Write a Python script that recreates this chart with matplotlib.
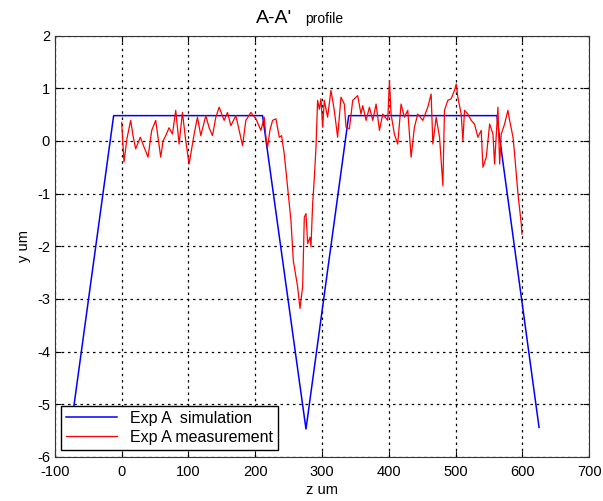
import numpy as np
import matplotlib.pyplot as plt

plt.rcParams['font.family'] = ['Liberation Sans', 'DejaVu Sans']
plt.rcParams['axes.unicode_minus'] = False

# simulation profile (vertices)
sim_z = [-76, -12, 211, 276, 340, 562, 565, 625]
sim_y = [-5.45, 0.48, 0.48, -5.47, 0.48, 0.48, 0.15, -5.44]

# measured profile
meas_z = [0, 3.5, 8, 13.5, 17, 21, 28, 33, 39.5, 45, 51, 58.5, 62, 66, 71, 76, 81, 86,
          91, 96, 101, 108.5, 113.5, 118.5, 126, 131, 136, 141, 146, 153.5, 158.5,
          163.5, 171, 176, 181, 186, 193.5, 201, 208.5, 213.5, 216, 218.5, 222, 226,
          231, 236, 239.5, 243.5, 248.5, 253.5, 257, 263.5, 267, 271, 273.5, 276,
          278.5, 282, 283.5, 286, 288.5, 291, 293.4, 296, 298.4, 301, 303.4, 308.4,
          313.4, 318.4, 323.4, 328.4, 333.4, 336, 341, 346, 353.4, 358.4, 361, 366,
          371, 376, 381, 386, 391, 398.4, 401, 403.4, 408.4, 413.4, 418.4, 423.4,
          428.4, 433.4, 438.4, 443.4, 451, 458.4, 463.4, 466, 471, 476, 481, 483.4,
          488.4, 493.4, 498.4, 501, 503.4, 508.4, 511, 513.4, 518.4, 523.4, 528.4,
          533.4, 538.4, 541, 546, 551, 556, 558.4, 563.4, 566, 568.4, 573.4, 578.4,
          581, 586, 588.4, 593.4, 598.4, 599.4]
meas_y = [0.35, -0.4, 0.05, 0.39, 0.1, -0.15, 0.07, -0.1, -0.31, 0.2, 0.39, -0.31,
          0.0, 0.1, 0.25, 0.13, 0.58, -0.06, 0.54, 0.0, -0.44, 0.13, 0.45, 0.1, 0.48,
          0.25, 0.1, 0.45, 0.64, 0.39, 0.54, 0.29, 0.48, 0.2, -0.09, 0.39, 0.54, 0.42,
          0.2, 0.45, 0.07, -0.12, 0.2, 0.39, 0.42, 0.07, 0.1, -0.25, -0.88, -1.51,
          -2.27, -2.77, -3.18, -2.77, -1.45, -1.38, -1.95, -1.83, -2.01, -1.19, -0.7,
          -0.12, 0.77, 0.6, 0.8, 0.26, 0.77, 0.45, 0.96, 0.58, 0.07, 0.83, 0.7, 0.26,
          0.23, 0.77, 0.86, 0.51, 0.67, 0.39, 0.64, 0.39, 0.7, 0.2, 0.51, 0.39, 1.15,
          0.51, 0.13, -0.06, 0.7, 0.45, 0.58, -0.31, 0.26, 0.51, 0.39, 0.64, 0.89,
          -0.06, 0.45, 0.07, -0.85, 0.58, 0.77, 0.8, 0.96, 1.08, 0.83, 0.51, 0.0,
          0.58, 0.51, 0.39, 0.32, 0.07, 0.2, -0.5, -0.31, 0.32, 0.13, -0.44, 0.64,
          -0.44, 0.13, 0.32, 0.58, 0.39, 0.07, -0.25, -1.0, -1.58, -1.77]

fig = plt.figure(figsize=(6.03, 5.01), dpi=100)
ax = fig.add_axes([0.091, 0.088, 0.886, 0.841])

ax.plot(sim_z, sim_y, color='#0000ff', lw=1.1, label='Exp A  simulation')
ax.plot(meas_z, meas_y, color='#ff0000', lw=0.9, label='Exp A measurement')

ax.set_xlim(-100, 700)
ax.set_ylim(-6, 2)
ax.set_xticks(np.arange(-100, 701, 100))
ax.set_yticks(np.arange(-6, 3, 1))
ax.grid(True, color='black', linestyle=(0, (2, 3)), lw=0.9)
ax.tick_params(direction='in', top=True, right=True, labelsize=10.5, length=4)
ax.tick_params(axis='x', pad=6)
for s in ax.spines.values():
    s.set_color('#333333')

ax.set_xlabel('z um', fontsize=10.5, labelpad=3)
ax.set_ylabel('y um', fontsize=10.5, labelpad=4)

fig.text(0.425, 0.955, "A-A'", fontsize=14, ha='left', va='baseline')
fig.text(0.506, 0.955, 'profile', fontsize=10, ha='left', va='baseline')

leg = ax.legend(loc='lower left', bbox_to_anchor=(0.012, 0.017), borderaxespad=0,
                fancybox=False, edgecolor='black', framealpha=1, fontsize=11.5,
                handlelength=3.2, borderpad=0.3, labelspacing=0.25)
leg.get_frame().set_linewidth(1.0)

fig.savefig('out.png', dpi=100)
